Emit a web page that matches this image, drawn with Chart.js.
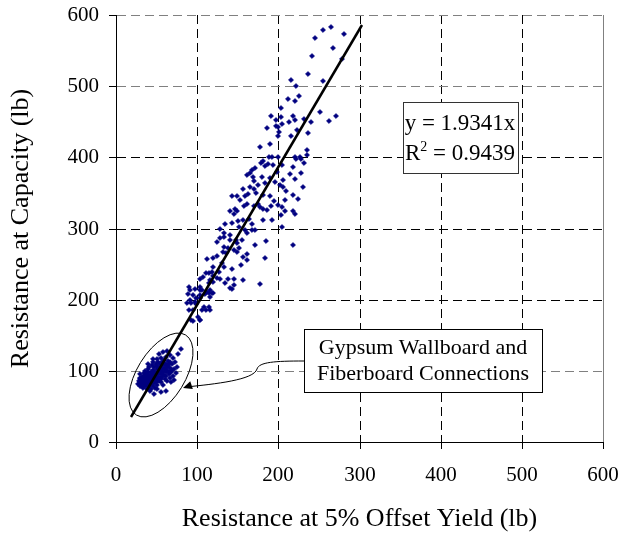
<!DOCTYPE html>
<html>
<head>
<meta charset="utf-8">
<title>Resistance at Capacity vs. 5% Offset Yield</title>
<script src="https://cdn.jsdelivr.net/npm/chart.js@4.4.0/dist/chart.umd.min.js"></script>
<style>
  html, body { margin: 0; padding: 0; background: #fff; }
  #wrap { width: 621px; height: 533px; }
</style>
</head>
<body>
<div id="wrap"><canvas id="chart" width="621" height="533"></canvas></div>
<script>
const SERIF = '"Liberation Serif", "Times New Roman", Times, serif';

// Axis ticks (lb)
const xTicks = [0, 100, 200, 300, 400, 500, 600];
const yTicks = [0, 100, 200, 300, 400, 500, 600];
// Horizontal gridlines drawn in the lighter grey
const greyRows = [100, 500, 600];

// Linear fit through the origin
const slope = 1.9341;
const rSquared = 0.9439;
const fitRange = [18, 303];

// [yield at 5% offset, capacity] for gypsum wallboard and fiberboard connections
const gypsumPoints = [
  [27,82],[28,86],[29,79],[29,90],[30,84],[30,95],[31,78],[31,88],[32,81],[32,92],
  [33,85],[33,76],[34,89],[34,97],[35,80],[35,84],[35,93],[36,78],[36,87],[36,100],
  [37,82],[37,91],[37,96],[38,75],[38,85],[38,89],[39,79],[39,94],[39,102],[40,83],
  [40,88],[40,98],[41,77],[41,91],[41,105],[42,86],[42,94],[42,81],[43,99],[43,89],
  [43,74],[44,84],[44,92],[44,108],[45,96],[45,87],[45,79],[46,101],[46,90],[46,112],
  [47,83],[47,95],[47,105],[48,88],[48,99],[48,76],[49,93],[49,110],[49,85],[50,102],
  [50,96],[50,117],[51,89],[51,107],[51,80],[52,98],[52,113],[52,92],[53,104],[53,86],
  [54,100],[54,110],[54,95],[55,88],[55,106],[55,118],[56,97],[56,84],[57,103],[57,112],
  [57,92],[58,99],[58,108],[58,80],[59,115],[59,94],[60,104],[60,88],[61,110],[61,98],
  [62,120],[62,93],[63,106],[63,86],[64,114],[64,100],[65,96],[65,109],[66,122],[66,90],
  [67,104],[67,113],[68,98],[68,84],[69,110],[70,118],[70,93],[71,103],[72,87],[73,112],
  [74,97],[75,106],[76,124],[61,72],[55,70],[50,74],[47,68],[42,72],[58,126],[53,123],
  [45,117],[40,110],[63,128],[80,131],
  [30,88],[31,83],[32,87],[33,80],[34,93],[36,82],[37,86],[38,93],[39,86],[40,92],
  [41,84],[42,90],[43,82],[44,96],[45,90],[46,85],[47,99],[48,92],[49,89],[50,86],
  [51,95],[52,104],[53,97],[54,90],[56,101],[57,96],[59,102],[60,109],[62,101],[64,107],
  [66,98],[69,101]
];

// [yield at 5% offset, capacity] for the remaining connections
const otherPoints = [
  [255,579],[265,583],[281,574],[245,567],[267,553],[242,542],[278,538],[237,517],[216,508],[255,507],
  [222,500],[212,482],[225,486],[221,479],[203,469],[191,458],[197,453],[203,457],[204,447],[218,458],
  [220,452],[213,450],[232,454],[240,449],[251,464],[262,451],[271,458],[186,441],[197,444],[201,435],
  [199,430],[223,438],[237,434],[215,430],[190,419],[178,414],[235,411],[235,403],[192,401],[220,401],
  [227,400],[228,397],[228,378],[230,359],
  [188,400],[199,400],[205,389],[198,380],[222,397],[181,395],[187,390],[194,389],[179,392],[214,376],
  [218,387],[232,392],[171,385],[165,378],[169,373],[180,373],[190,371],[196,366],[202,361],[206,358],
  [209,352],[218,347],[224,341],[184,364],[175,361],[170,356],[163,349],[173,350],[181,347],[190,345],
  [195,338],[200,333],[205,330],[208,340],[208,324],[203,319],[218,324],[221,321],[205,302],[218,277],
  [159,345],[153,340],[149,345],[161,335],[170,332],[175,334],[181,328],[186,326],[191,331],[192,312],
  [181,312],[168,307],[147,328],[145,321],[150,310],[156,312],[164,314],[167,298],[171,298],[159,298],
  [161,293],[155,284],[148,284],[140,284],[133,293],[128,300],[143,308],[140,324],[143,345],[134,307],
  [128,286],[124,281],[138,272],[145,270],[151,272],[156,260],[161,256],[184,258],[132,267],[124,261],
  [120,258],[112,257],[119,246],
  [143,243],[118,239],[114,237],[111,237],[120,233],[124,231],[128,229],[138,229],[145,229],[157,228],
  [103,229],[107,232],[116,228],[119,225],[134,223],[145,221],[178,222],[143,215],[90,218],[91,214],
  [104,218],[97,215],[106,213],[112,211],[116,213],[118,209],[110,208],[89,208],[95,207],[104,203],
  [99,203],[116,204],[91,200],[87,196],[93,195],[99,194],[108,190],[114,190],[106,186],[111,186],
  [116,186],[90,185],[95,186],[101,176],[104,172],[95,170],
  [141,217],[154,249],[127,239],[97,197],[93,171],[103,171],[103,207],[103,213],[114,209],[120,209],
  [115,223],[133,274],[171,277],[185,283],[162,264],[131,252],[133,246],[149,267],
  [199,443],[183,388],[167,382],[161,375],[170,367],[165,359],[157,356],[149,325],[158,331],[178,330],
  [151,302],[133,288],[140,291],[149,279],[136,265],[206,368],[221,369]
];

const toXY = p => ({ x: p[0], y: p[1] });
const fitLine = fitRange.map(v => ({ x: v, y: slope * v }));

// Callouts, placed in axis units
const notes = {
  ellipse: { x: 55, y: 94, rx: 47, ry: 24, angleDeg: -58.4 },
  groupBox: { x0: 232, y0: 159, x1: 525, y1: 70 },
  groupText: { x: 378, lines: [['Gypsum Wallboard and', 123.6], ['Fiberboard Connections', 87.1]] },
  leader: [[232, 114], [196, 114], [176, 112.4], [174, 102.6], [170, 87.1], [122, 81.5], [86, 76.6]],
  arrowTip: [83, 76.3],
  eqBox: { x0: 354, y0: 478, x1: 495, y1: 378 },
  eqText: { x: 424, y1: 438.4, y2: 396.2 }
};

const annotate = {
  id: 'annotate',
  afterDatasetsDraw(chart) {
    const { ctx, scales: { x, y } } = chart;
    const P = (vx, vy) => [x.getPixelForValue(vx), y.getPixelForValue(vy)];
    ctx.save();
    ctx.strokeStyle = '#000';
    ctx.fillStyle = '#000';
    ctx.lineWidth = 1;

    // ellipse around the gypsum/fiberboard group
    const e = notes.ellipse;
    const [ex, ey] = P(e.x, e.y);
    ctx.beginPath();
    ctx.ellipse(ex, ey, e.rx, e.ry, e.angleDeg * Math.PI / 180, 0, Math.PI * 2);
    ctx.stroke();

    // leader curve from the label box to the ellipse
    const L = notes.leader.map(p => P(p[0], p[1]));
    ctx.beginPath();
    ctx.moveTo(L[0][0], L[0][1]);
    ctx.bezierCurveTo(L[1][0], L[1][1], L[2][0], L[2][1], L[3][0], L[3][1]);
    ctx.bezierCurveTo(L[4][0], L[4][1], L[5][0], L[5][1], L[6][0], L[6][1]);
    ctx.stroke();
    const [tx, ty] = P(notes.arrowTip[0], notes.arrowTip[1]);
    const ang = Math.atan2(L[6][1] - ty, L[6][0] - tx);
    ctx.beginPath();
    ctx.moveTo(tx, ty);
    ctx.lineTo(tx + 9 * Math.cos(ang) - 4 * Math.sin(ang), ty + 9 * Math.sin(ang) + 4 * Math.cos(ang));
    ctx.lineTo(tx + 9 * Math.cos(ang) + 4 * Math.sin(ang), ty + 9 * Math.sin(ang) - 4 * Math.cos(ang));
    ctx.closePath();
    ctx.fill();

    // label box
    const gb = notes.groupBox;
    const [g0x, g0y] = P(gb.x0, gb.y0);
    const [g1x, g1y] = P(gb.x1, gb.y1);
    ctx.fillStyle = '#fff';
    ctx.fillRect(g0x, g0y, g1x - g0x, g1y - g0y);
    ctx.strokeRect(Math.round(g0x) + 0.5, Math.round(g0y) + 0.5, Math.round(g1x - g0x), Math.round(g1y - g0y));
    ctx.fillStyle = '#000';
    ctx.font = '22px ' + SERIF;
    ctx.textAlign = 'center';
    ctx.textBaseline = 'alphabetic';
    notes.groupText.lines.forEach(([t, vy]) => {
      const [px, py] = P(notes.groupText.x, vy);
      ctx.fillText(t, px, py);
    });

    // regression equation box
    const eb = notes.eqBox;
    const [b0x, b0y] = P(eb.x0, eb.y0);
    const [b1x, b1y] = P(eb.x1, eb.y1);
    ctx.fillStyle = '#fff';
    ctx.fillRect(b0x, b0y, b1x - b0x, b1y - b0y);
    ctx.strokeStyle = '#333';
    ctx.strokeRect(Math.round(b0x) + 0.5, Math.round(b0y) + 0.5, Math.round(b1x - b0x), Math.round(b1y - b0y));
    ctx.fillStyle = '#000';
    ctx.font = '23px ' + SERIF;
    const [cx, l1y] = P(notes.eqText.x, notes.eqText.y1);
    const [, l2y] = P(notes.eqText.x, notes.eqText.y2);
    ctx.textAlign = 'center';
    ctx.fillText('y = ' + slope.toFixed(4) + 'x', cx, l1y);
    // R² line with a raised exponent
    const rest = ' = ' + rSquared.toFixed(4);
    ctx.font = '23px ' + SERIF;
    const wR = ctx.measureText('R').width;
    const wRest = ctx.measureText(rest).width;
    ctx.font = '14px ' + SERIF;
    const w2 = ctx.measureText('2').width;
    let sx = cx - (wR + w2 + wRest) / 2;
    ctx.textAlign = 'left';
    ctx.font = '23px ' + SERIF;
    ctx.fillText('R', sx, l2y);
    ctx.font = '14px ' + SERIF;
    ctx.fillText('2', sx + wR, l2y - 9);
    ctx.font = '23px ' + SERIF;
    ctx.fillText(rest, sx + wR + w2, l2y);
    ctx.restore();
  },
  afterDraw(chart) {
    // right frame edge
    const { ctx, chartArea, scales: { x } } = chart;
    const rx = Math.round(x.getPixelForValue(600)) + 0.5;
    ctx.save();
    ctx.strokeStyle = '#808080';
    ctx.lineWidth = 1;
    ctx.beginPath();
    ctx.moveTo(rx, chartArea.top);
    ctx.lineTo(rx, chartArea.bottom);
    ctx.stroke();
    ctx.restore();
  }
};

const axisTitleFont = { family: SERIF, size: 26, lineHeight: 1 };
const tickFont = { family: SERIF, size: 21 };
const markerStyle = {
  pointStyle: 'rectRot',
  pointRadius: 2.6,
  backgroundColor: '#000080',
  borderColor: '#000080',
  borderWidth: 0.5
};

new Chart(document.getElementById('chart'), {
  type: 'scatter',
  data: {
    datasets: [
      {
        label: 'fit',
        data: fitLine,
        showLine: true,
        borderColor: '#000',
        borderWidth: 2.5,
        pointRadius: 0,
        fill: false
      },
      Object.assign({ label: 'gypsum', data: gypsumPoints.map(toXY) }, markerStyle),
      Object.assign({ label: 'other', data: otherPoints.map(toXY) }, markerStyle)
    ]
  },
  options: {
    responsive: false,
    animation: false,
    events: [],
    layout: { padding: { top: 15, right: 18, bottom: 0, left: 0 } },
    plugins: { legend: { display: false }, tooltip: { enabled: false } },
    scales: {
      x: {
        type: 'linear',
        min: 0, max: 600,
        alignToPixels: true,
        afterBuildTicks: s => { s.ticks = xTicks.map(v => ({ value: v })); },
        afterFit: s => { s.height = 91; s.paddingLeft = 0; s.paddingRight = 0; },
        ticks: { color: '#000', font: tickFont, padding: 14, maxRotation: 0 },
        grid: { color: '#000', lineWidth: 1, tickLength: 7, tickColor: '#000', tickWidth: 1 },
        border: { display: true, color: '#000', width: 1, dash: [9, 5] },
        title: { display: true, text: 'Resistance at 5% Offset Yield (lb)', color: '#000', font: axisTitleFont, padding: { top: 0, bottom: 1 } }
      },
      y: {
        type: 'linear',
        min: 0, max: 600,
        alignToPixels: true,
        afterBuildTicks: s => { s.ticks = yTicks.map(v => ({ value: v })); },
        afterFit: s => { s.width = 116; s.paddingTop = 0; s.paddingBottom = 0; },
        ticks: { color: '#000', font: tickFont, padding: 10 },
        grid: {
          color: c => (c.tick && greyRows.includes(c.tick.value)) ? '#808080' : '#000',
          lineWidth: 1, tickLength: 7, tickColor: '#000', tickWidth: 1
        },
        border: { display: true, color: '#000', width: 1, dash: [9, 5] },
        title: { display: true, text: 'Resistance at Capacity (lb)', color: '#000', font: axisTitleFont, padding: { top: 8, bottom: 0 } }
      }
    }
  },
  plugins: [annotate]
});
</script>
</body>
</html>
